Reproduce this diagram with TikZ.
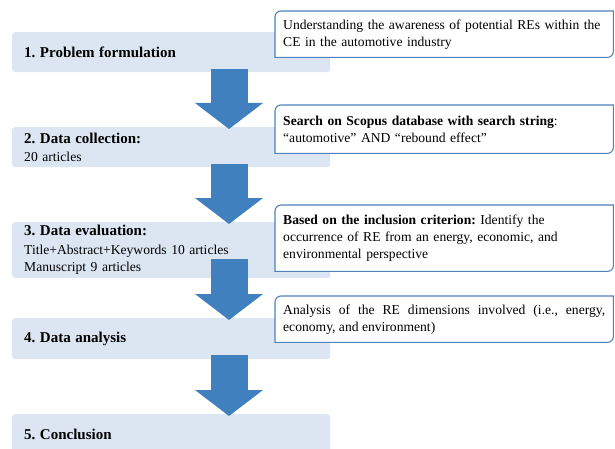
\documentclass[tikz,border=0pt]{standalone}
\usepackage{fontspec}
\setmainfont{Liberation Serif}
\usetikzlibrary{arrows.meta}
\definecolor{stepfill}{RGB}{220,230,242}
\definecolor{flowblue}{RGB}{65,128,190}
\definecolor{noteline}{RGB}{79,129,189}
\frenchspacing
\hyphenpenalty=10000
\newcommand{\titlefont}{\fontsize{15}{18}\bfseries\selectfont}
\newcommand{\bodyfont}{\fontsize{13.6}{17}\selectfont}
% outline with two rounded corners (top left, bottom right)
\newcommand{\noteframe}[1]{%
  \draw[noteline, line width=1.1pt] (#1.north east) -- ([yshift=6pt]#1.south east)
    arc(0:-90:6pt) -- (#1.south west) -- ([yshift=-6pt]#1.north west)
    arc(180:90:6pt) -- cycle;}

\begin{document}
\begin{tikzpicture}[x=1pt, y=-1pt,
  stepbox/.style={fill=stepfill, rounded corners=3pt, anchor=north west,
    minimum width=318pt, text width=294pt, inner xsep=12pt, inner ysep=0pt,
    align=left, font=\bodyfont},
  notebox/.style={fill=white, anchor=north west, text width=322pt,
    inner xsep=8pt, inner ysep=0pt, align=left, font=\bodyfont},
  flow/.style={flowblue, line width=37pt,
    -{Triangle[length=26pt, width=68pt, line width=0pt]}}]
  \useasboundingbox (0,0) rectangle (615,449);
  % process steps
  \node[stepbox, minimum height=40pt] (p1) at (12,32) {\titlefont 1. Problem formulation};
  \node[stepbox, minimum height=40pt] (p2) at (12,127)
    {{\titlefont 2. Data collection:}\\[1pt] 20 articles};
  \node[stepbox, minimum height=56pt] (p3) at (12,222)
    {{\titlefont 3. Data evaluation:}\\[2pt] Title+Abstract+Keywords 10 articles\\ Manuscript 9 articles};
  \node[stepbox, minimum height=41pt] (p4) at (12,318) {\titlefont 4. Data analysis};
  \node[stepbox, minimum height=40pt] (p5) at (12,414) {\titlefont 5. Conclusion};
  % block arrows between the steps
  \draw[flow] ([xshift=217pt,yshift=3pt]p1.south west) -- ([xshift=217pt,yshift=-2pt]p2.north west);
  \draw[flow] ([xshift=217pt,yshift=3pt]p2.south west) -- ([xshift=217pt,yshift=-2pt]p3.north west);
  \draw[flow] ([xshift=217pt,yshift=19pt]p3.south west) -- ([xshift=217pt,yshift=-2pt]p4.north west);
  \draw[flow] ([xshift=217pt,yshift=4pt]p4.south west) -- ([xshift=217pt,yshift=-2pt]p5.north west);
  % notes on the right
  \node[notebox, minimum height=46pt] (n1) at (275,11)
    {Understanding the awareness of potential REs within the\\ CE in the automotive industry};
  \noteframe{n1}
  \node[notebox, minimum height=48pt] (n2) at (275,105)
    {\textbf{Search on Scopus database with search string}:\\ “automotive” AND “rebound effect”};
  \noteframe{n2}
  \node[notebox, minimum height=66pt] (n3) at (275,205)
    {\textbf{Based on the inclusion criterion:} Identify the\\ occurrence of RE from an energy, economic, and\\ environmental perspective};
  \noteframe{n3}
  \node[notebox, align=justify, minimum height=46pt] (n4) at (275,296)
    {Analysis of the RE dimensions involved (i.e., energy, economy, and environment)};
  \noteframe{n4}
\end{tikzpicture}
\end{document}
